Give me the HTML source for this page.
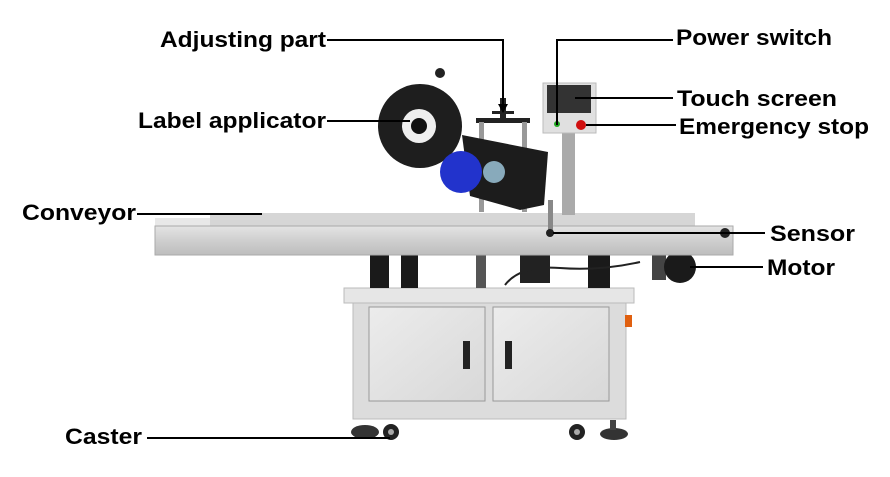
<!DOCTYPE html>
<html><head><meta charset="utf-8"><style>
html,body{margin:0;padding:0;background:#fff;width:890px;height:477px;overflow:hidden}
text{font-family:"Liberation Sans",Arial,sans-serif;font-weight:bold;font-size:22px;fill:#000}
</style></head><body>
<svg width="890" height="477" viewBox="0 0 890 477" xmlns="http://www.w3.org/2000/svg">
<defs>
<linearGradient id="steel" x1="0" y1="0" x2="0" y2="1">
<stop offset="0" stop-color="#e4e4e4"/><stop offset="0.5" stop-color="#cfcfcf"/><stop offset="1" stop-color="#bdbdbd"/></linearGradient>
<linearGradient id="cab" x1="0" y1="0" x2="1" y2="1">
<stop offset="0" stop-color="#ececec"/><stop offset="1" stop-color="#d8d8d8"/></linearGradient>
</defs>
<rect x="344" y="288" width="290" height="15" fill="#e6e6e6" stroke="#bbb"/>
<rect x="353" y="303" width="273" height="116" fill="#dcdcdc" stroke="#bbb"/>
<rect x="369" y="307" width="116" height="94" fill="url(#cab)" stroke="#999"/>
<rect x="493" y="307" width="116" height="94" fill="url(#cab)" stroke="#999"/>
<rect x="463" y="341" width="7" height="28" fill="#222"/>
<rect x="505" y="341" width="7" height="28" fill="#222"/>
<rect x="625" y="315" width="7" height="12" fill="#e06010"/>
<ellipse cx="365" cy="432" rx="14" ry="7" fill="#333"/>
<circle cx="391" cy="432" r="8" fill="#222"/><circle cx="391" cy="432" r="3" fill="#aaa"/>
<circle cx="577" cy="432" r="8" fill="#222"/><circle cx="577" cy="432" r="3" fill="#aaa"/>
<ellipse cx="614" cy="434" rx="14" ry="6" fill="#333"/>
<rect x="610" y="420" width="6" height="10" fill="#444"/>
<rect x="370" y="244" width="19" height="44" fill="#1a1a1a"/>
<rect x="401" y="255" width="17" height="33" fill="#1a1a1a"/>
<rect x="476" y="255" width="10" height="33" fill="#555"/>
<rect x="520" y="255" width="30" height="28" fill="#222"/>
<rect x="588" y="244" width="22" height="44" fill="#1a1a1a"/>
<path d="M505 285 Q520 265 560 268 T640 262" stroke="#222" stroke-width="2" fill="none"/>
<rect x="652" y="254" width="14" height="26" fill="#444"/>
<circle cx="680" cy="267" r="16" fill="#1a1a1a"/>
<rect x="155" y="218" width="56" height="8" fill="#e8e8e8"/>
<rect x="210" y="213" width="485" height="13" fill="#d6d6d6"/>
<rect x="155" y="226" width="578" height="29" fill="url(#steel)" stroke="#aaa"/>
<circle cx="725" cy="233" r="5" fill="#222"/>
<rect x="476" y="118" width="54" height="5" fill="#222"/>
<rect x="479" y="122" width="5" height="90" fill="#999"/>
<rect x="522" y="122" width="5" height="90" fill="#999"/>
<rect x="500" y="98" width="6" height="20" fill="#222"/>
<rect x="492" y="111" width="22" height="3" fill="#222"/>
<rect x="562" y="130" width="13" height="85" fill="#aaa"/>
<rect x="543" y="83" width="53" height="50" fill="#e0e0e0" stroke="#bbb"/>
<rect x="547" y="85" width="44" height="28" fill="#333"/>
<circle cx="581" cy="125" r="5" fill="#d01010"/>
<circle cx="557" cy="124" r="3" fill="#2a2"/>
<rect x="548" y="200" width="5" height="35" fill="#888"/>
<circle cx="550" cy="233" r="4" fill="#222"/>
<circle cx="420" cy="126" r="42" fill="#1e1e1e"/>
<circle cx="419" cy="126" r="17" fill="#eee"/>
<circle cx="419" cy="126" r="8" fill="#111"/>
<circle cx="440" cy="73" r="5" fill="#222"/>
<polygon points="462,135 548,152 544,205 520,210 470,196" fill="#1c1c1c"/>
<circle cx="461" cy="172" r="21" fill="#2233cc"/>
<circle cx="494" cy="172" r="11" fill="#8ab"/>
<g stroke="#000" stroke-width="2" fill="none">
<path d="M327 40 H503 V110"/>
<path d="M327 121 H410"/>
<path d="M137 214 H262"/>
<path d="M673 40 H557 V125"/>
<path d="M575 98 H673"/>
<path d="M586 125 H676"/>
<path d="M553 233 H765"/>
<path d="M690 267 H763"/>
<path d="M147 438 H390"/>
</g>
<polygon points="498,104 508,104 503,113" fill="#000"/>
<text x="160" y="47" textLength="166" lengthAdjust="spacingAndGlyphs">Adjusting part</text>
<text x="138" y="128" textLength="188" lengthAdjust="spacingAndGlyphs">Label applicator</text>
<text x="22" y="220" textLength="114" lengthAdjust="spacingAndGlyphs">Conveyor</text>
<text x="676" y="45" textLength="156" lengthAdjust="spacingAndGlyphs">Power switch</text>
<text x="677" y="106" textLength="160" lengthAdjust="spacingAndGlyphs">Touch screen</text>
<text x="679" y="134" textLength="190" lengthAdjust="spacingAndGlyphs">Emergency stop</text>
<text x="770" y="241" textLength="85" lengthAdjust="spacingAndGlyphs">Sensor</text>
<text x="767" y="275" textLength="68" lengthAdjust="spacingAndGlyphs">Motor</text>
<text x="65" y="444" textLength="77" lengthAdjust="spacingAndGlyphs">Caster</text>
</svg>
</body></html>
